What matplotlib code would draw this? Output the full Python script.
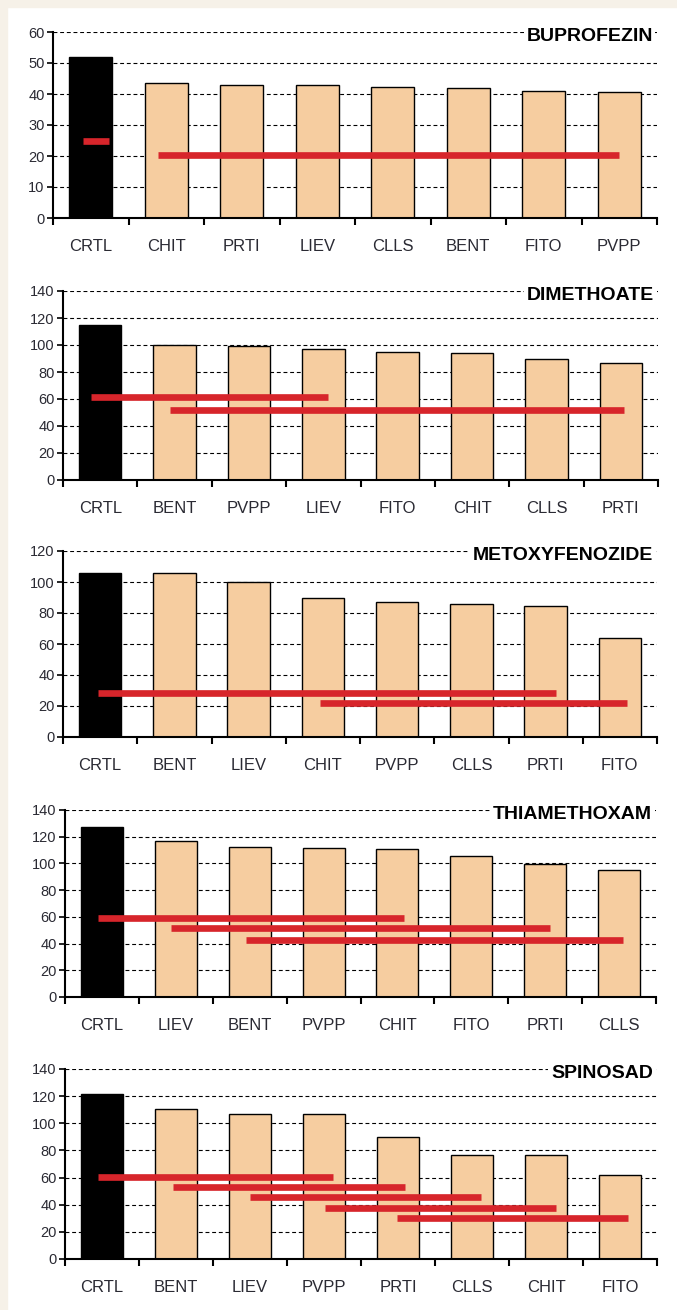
import matplotlib.pyplot as plt
from matplotlib.patches import Rectangle
from matplotlib.ticker import MultipleLocator, FixedLocator

plt.rcParams['font.family'] = ['Liberation Sans', 'DejaVu Sans']

# one panel per insecticide: bar order, mean values, groups of equal means
titles = ["BUPROFEZIN", "DIMETHOATE", "METOXYFENOZIDE", "THIAMETHOXAM", "SPINOSAD"]

buprofezin_cats = ["CRTL", "CHIT", "PRTI", "LIEV", "CLLS", "BENT", "FITO", "PVPP"]
buprofezin_vals = [52, 43.5, 42.8, 42.8, 42.3, 41.8, 41, 40.5]
buprofezin_groups = [(25, -0.1, 0.24), (20.2, 0.89, 7.0)]

dimethoate_cats = ["CRTL", "BENT", "PVPP", "LIEV", "FITO", "CHIT", "CLLS", "PRTI"]
dimethoate_vals = [114.5, 100, 99, 97, 95, 94, 89.5, 86.5]
dimethoate_groups = [(61.3, -0.12, 3.06), (51.6, 0.94, 7.04)]

metoxy_cats = ["CRTL", "BENT", "LIEV", "CHIT", "PVPP", "CLLS", "PRTI", "FITO"]
metoxy_vals = [106, 105.5, 100, 89.5, 87, 85.5, 84.5, 64]
metoxy_groups = [(28.6, -0.03, 6.14), (21.8, 2.96, 7.10)]

thiamethoxam_cats = ["CRTL", "LIEV", "BENT", "PVPP", "CHIT", "FITO", "PRTI", "CLLS"]
thiamethoxam_vals = [127, 116.5, 112.5, 111.5, 110.5, 105.5, 99.5, 95]
thiamethoxam_groups = [(59.3, -0.05, 4.09), (51.6, 0.93, 6.07), (42.3, 1.95, 7.06)]

spinosad_cats = ["CRTL", "BENT", "LIEV", "PVPP", "PRTI", "CLLS", "CHIT", "FITO"]
spinosad_vals = [121.5, 110.5, 106.5, 106.5, 90, 77, 77, 62]
spinosad_groups = [(60.6, -0.05, 3.12), (53, 0.955, 4.09), (45.4, 2.0, 5.12),
                   (37.8, 3.01, 6.13), (30, 3.98, 7.11)]

y_max = [60, 140, 120, 140, 140]
y_step = [10, 20, 20, 20, 20]

panels = [
    (buprofezin_cats, buprofezin_vals, buprofezin_groups),
    (dimethoate_cats, dimethoate_vals, dimethoate_groups),
    (metoxy_cats, metoxy_vals, metoxy_groups),
    (thiamethoxam_cats, thiamethoxam_vals, thiamethoxam_groups),
    (spinosad_cats, spinosad_vals, spinosad_groups),
]

W, H = 677, 1310
# axes boxes in pixels: left, right, top, bottom
boxes = [(53, 657, 32, 218), (63, 658, 291, 480), (63, 657, 551, 737),
         (65, 656, 810, 997), (65, 657, 1069, 1259)]

fig = plt.figure(figsize=(W / 100, H / 100), dpi=100)
fig.patch.set_facecolor('white')
fig.add_artist(Rectangle((0, 1 - 7 / H), 1, 7 / H, transform=fig.transFigure,
                         color='#f6f1e8', zorder=-10))
fig.add_artist(Rectangle((0, 0), 7 / W, 1, transform=fig.transFigure,
                         color='#f6f1e8', zorder=-10))

for k, (cats, vals, groups) in enumerate(panels):
    l, r, t, b = boxes[k]
    ax = fig.add_axes([l / W, 1 - b / H, (r - l) / W, (b - t) / H])
    x = list(range(len(cats)))
    colors = ['black'] + ['#f6cda0'] * (len(cats) - 1)
    ax.bar(x, vals, width=0.57, color=colors, edgecolor='black', linewidth=1.0, zorder=3)
    for level, x0, x1 in groups:
        ax.plot([x0, x1], [level, level], color='#d7252b', lw=4.8,
                solid_capstyle='butt', zorder=4)

    ax.set_xlim(-0.5, len(cats) - 0.5)
    ax.set_ylim(0, y_max[k])
    ax.yaxis.set_major_locator(MultipleLocator(y_step[k]))
    ax.set_xticks(x)
    ax.set_xticklabels(cats, fontsize=12, color='#2a2a33')
    ax.xaxis.set_minor_locator(FixedLocator([i - 0.5 for i in range(len(cats) + 1)]))
    ax.tick_params(axis='x', which='major', length=0, pad=15)
    ax.tick_params(axis='x', which='minor', length=5, width=1.5, direction='out')
    ax.tick_params(axis='y', length=4, width=1.2, direction='out', pad=2,
                   labelsize=10.5, labelcolor='#2a2a33')

    for yv in range(y_step[k], y_max[k] + 1, y_step[k]):
        ax.axhline(yv, color='black', lw=0.8, dashes=(3.5, 2.5), zorder=1)

    for side in ('top', 'right'):
        ax.spines[side].set_visible(False)
    for side in ('left', 'bottom'):
        ax.spines[side].set_linewidth(1.5)
    ax.spines['left'].set_zorder(5)
    ax.spines['bottom'].set_zorder(5)

    ax.text(0.993, 1 - 4.5 / (b - t), titles[k], transform=ax.transAxes,
            ha='right', va='center', fontsize=14, fontweight='bold', color='black',
            zorder=6, bbox=dict(facecolor='white', edgecolor='none', pad=2))

fig.savefig("out.png", dpi=100)
